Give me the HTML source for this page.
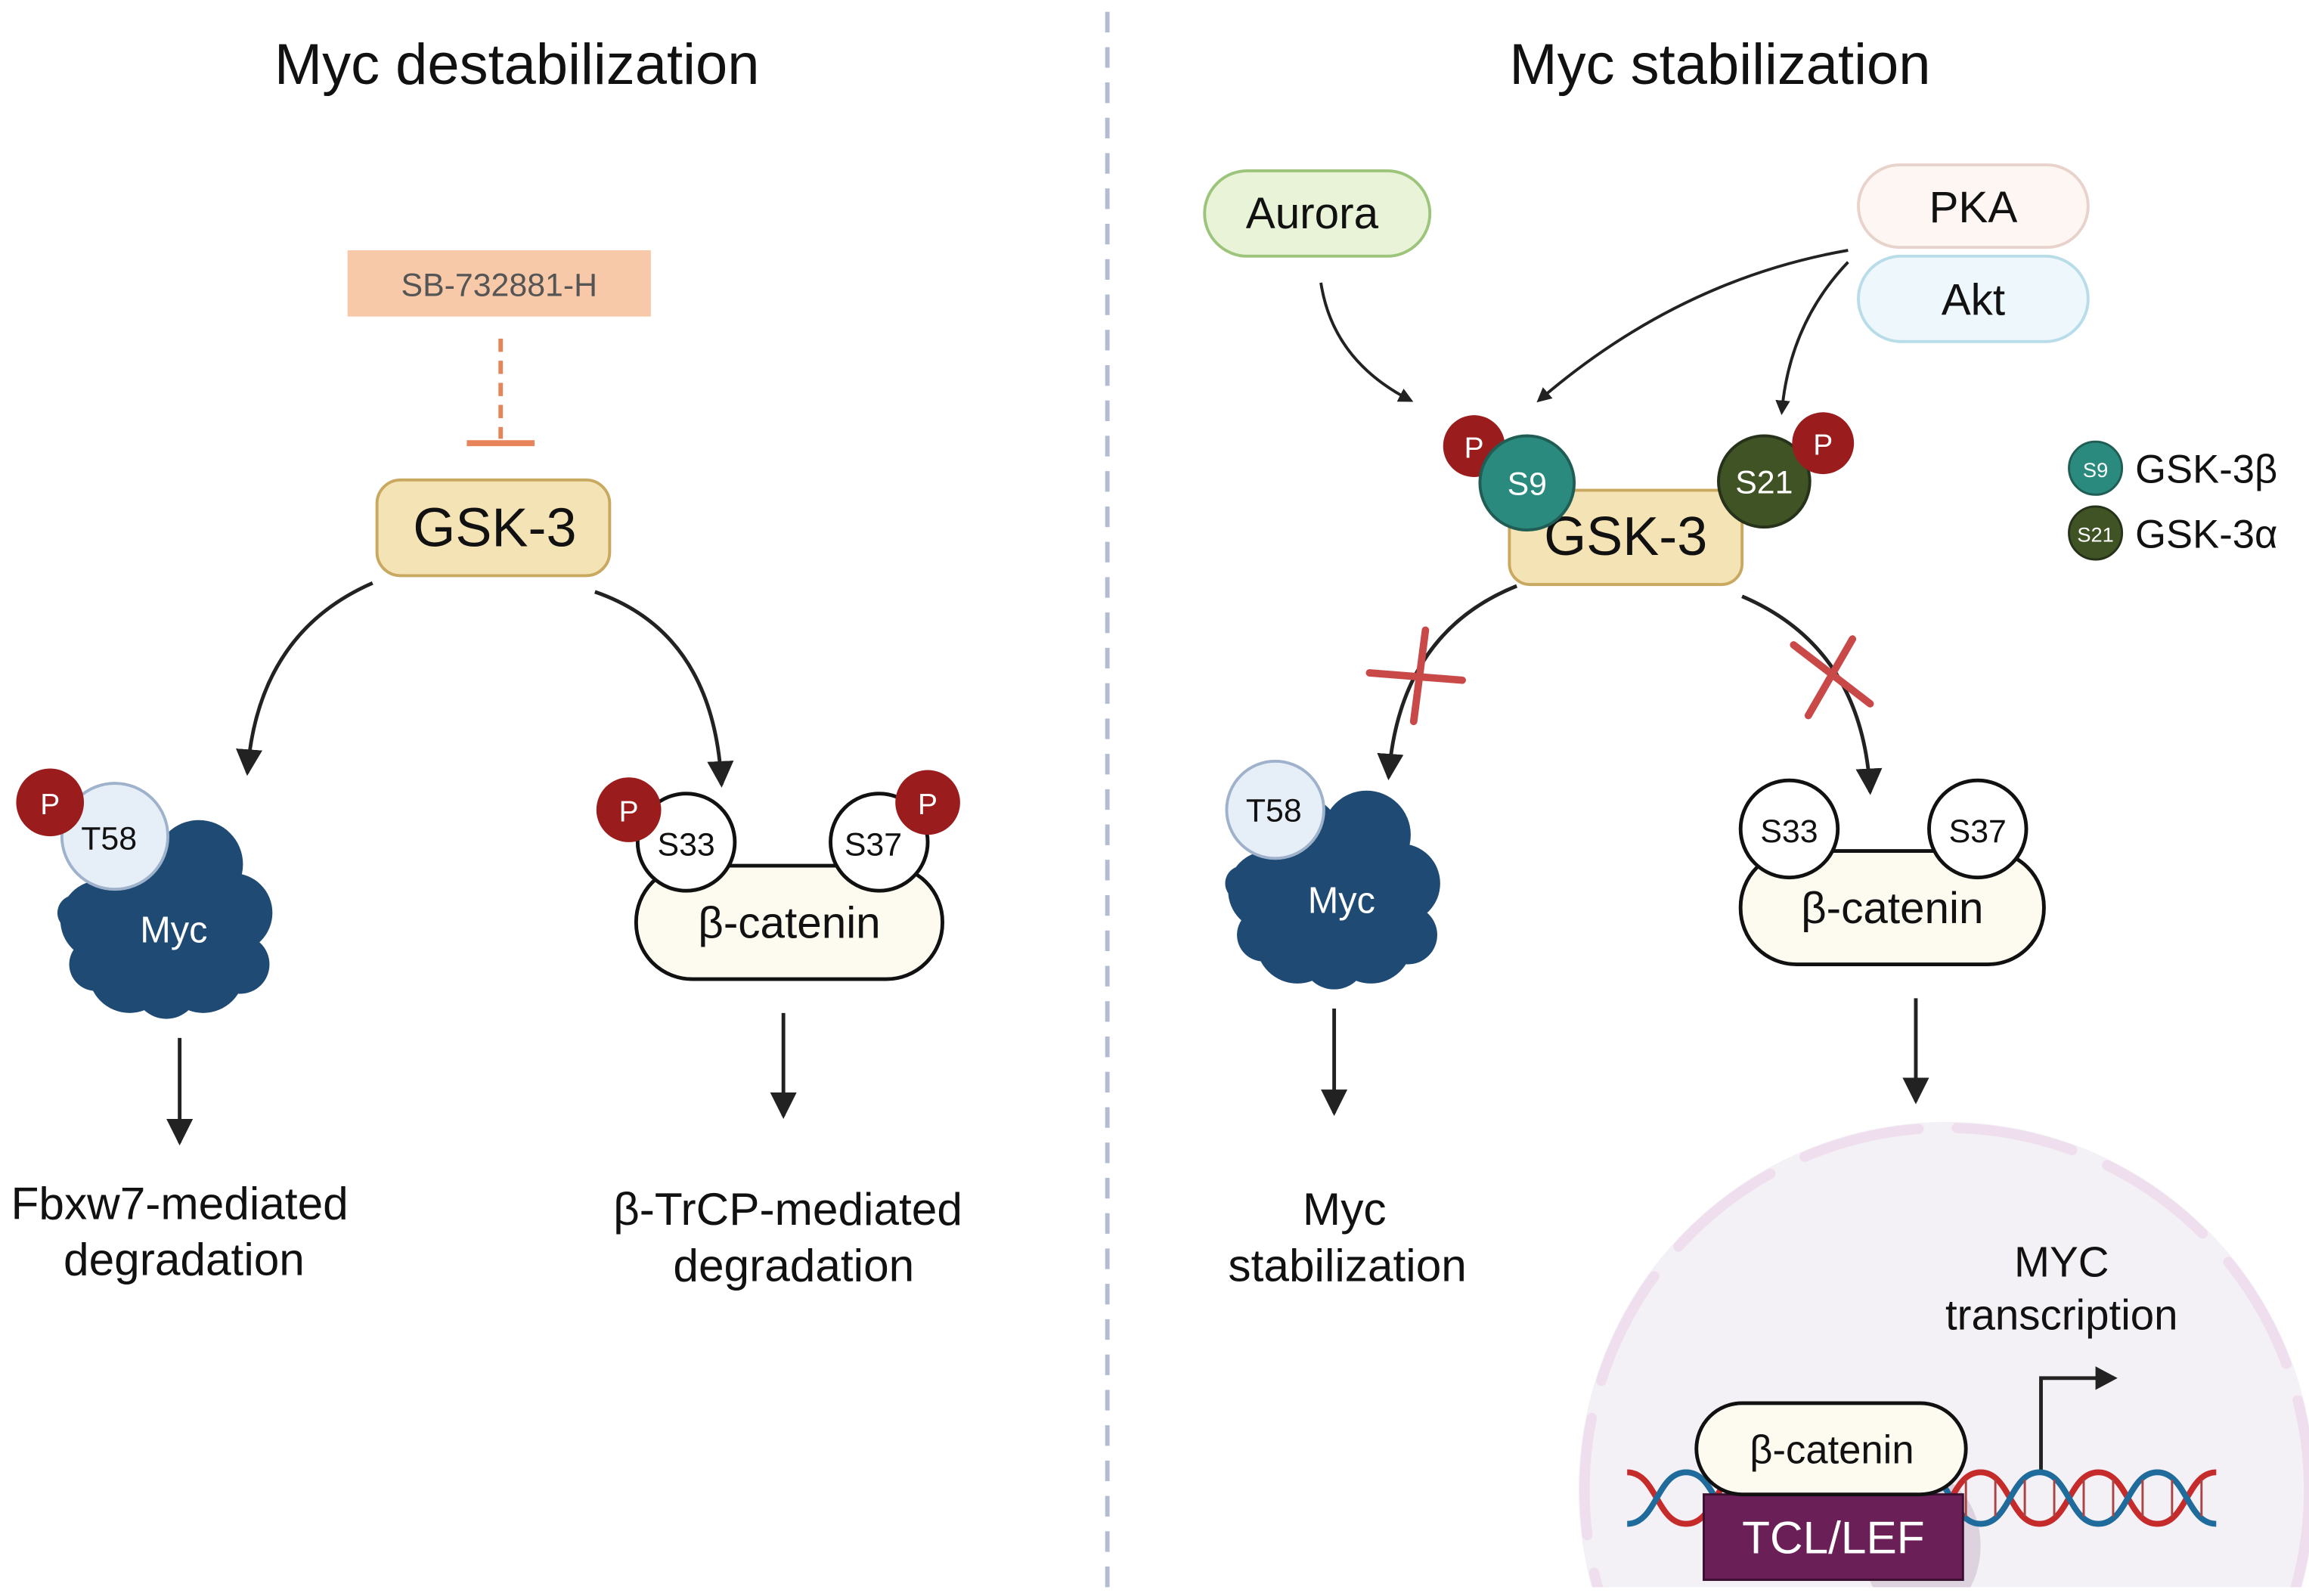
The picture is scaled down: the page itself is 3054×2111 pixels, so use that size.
<!DOCTYPE html>
<html><head><meta charset="utf-8"><style>
html,body{margin:0;padding:0;background:#fff;width:3054px;height:2111px;overflow:hidden}
svg{display:block;overflow:hidden}
text{font-family:"Liberation Sans",sans-serif}
</style></head><body>
<svg width="3054" height="2111" viewBox="0 0 1568 1084" preserveAspectRatio="none" xmlns="http://www.w3.org/2000/svg">
<defs>
<marker id="ah" markerWidth="10" markerHeight="10" refX="8" refY="5" orient="auto" markerUnits="userSpaceOnUse" viewBox="0 0 10 10">
<path d="M0,0 L10,5 L0,10 z" fill="#222"/></marker>
<marker id="ahb" markerWidth="18" markerHeight="18" refX="16" refY="9" orient="auto" markerUnits="userSpaceOnUse" viewBox="0 0 18 18">
<path d="M0,0 L18,9 L0,18 z" fill="#222"/></marker>
<g id="blob">
<circle cx="-25" cy="-35" r="30"/><circle cx="22" cy="-38" r="30"/><circle cx="45" cy="-5" r="27"/>
<circle cx="-45" cy="0" r="27"/><circle cx="0" cy="0" r="45"/><circle cx="-25" cy="35" r="28"/>
<circle cx="25" cy="35" r="28"/><circle cx="0" cy="45" r="22"/><circle cx="-62" cy="-5" r="12"/>
<circle cx="50" cy="30" r="20"/><circle cx="-48" cy="30" r="18"/>
</g>
<clipPath id="pg"><rect x="0" y="0" width="1568" height="1078"/></clipPath>
</defs>

<line x1="752" y1="8" x2="752" y2="1084" stroke="#b3bcd2" stroke-width="3" stroke-dasharray="14,10"/>

<!-- LEFT -->
<text x="351" y="57" font-size="39" text-anchor="middle" fill="#111">Myc destabilization</text>
<rect x="236" y="170" width="206" height="45" fill="#f7c9a8"/>
<text x="339" y="201" font-size="22" text-anchor="middle" fill="#555">SB-732881-H</text>
<line x1="340" y1="230" x2="340" y2="298" stroke="#e8845a" stroke-width="3" stroke-dasharray="9,6"/>
<line x1="317" y1="301" x2="363" y2="301" stroke="#e8845a" stroke-width="4"/>
<rect x="256" y="326" width="158" height="65" rx="16" fill="#f4e3b4" stroke="#c9a860" stroke-width="2"/>
<text x="336" y="371" font-size="37" text-anchor="middle" fill="#111">GSK-3</text>
<path d="M253,396 Q175,430 168,525" fill="none" stroke="#222" stroke-width="2.5" marker-end="url(#ahb)"/>
<path d="M404,402 Q485,430 490,533" fill="none" stroke="#222" stroke-width="2.5" marker-end="url(#ahb)"/>

<use href="#blob" x="113" y="625" fill="#1e4a74"/>
<circle cx="78" cy="568" r="36" fill="#e6eef8" stroke="#9fb2cc" stroke-width="2"/>
<text x="74" y="577" font-size="22" text-anchor="middle" fill="#111">T58</text>
<circle cx="34" cy="545" r="23" fill="#9b1c1c"/>
<text x="34" y="553" font-size="20" text-anchor="middle" fill="#fff">P</text>
<text x="118" y="640" font-size="25" text-anchor="middle" fill="#fff">Myc</text>
<line x1="122" y1="705" x2="122" y2="776" stroke="#222" stroke-width="2.5" marker-end="url(#ahb)"/>
<text x="122" y="828" font-size="31" text-anchor="middle" fill="#111">Fbxw7-mediated</text>
<text x="125" y="866" font-size="31" text-anchor="middle" fill="#111">degradation</text>

<rect x="432" y="588" width="208" height="77" rx="38" fill="#fdfaf0" stroke="#111" stroke-width="2.5"/>
<circle cx="466" cy="572" r="33" fill="#fff" stroke="#111" stroke-width="2.5"/>
<circle cx="597" cy="572" r="33" fill="#fff" stroke="#111" stroke-width="2.5"/>
<text x="466" y="581" font-size="22" text-anchor="middle" fill="#111">S33</text>
<text x="593" y="581" font-size="22" text-anchor="middle" fill="#111">S37</text>
<circle cx="427" cy="550" r="22" fill="#9b1c1c"/><text x="427" y="558" font-size="20" text-anchor="middle" fill="#fff">P</text>
<circle cx="630" cy="545" r="22" fill="#9b1c1c"/><text x="630" y="553" font-size="20" text-anchor="middle" fill="#fff">P</text>
<text x="536" y="637" font-size="30" text-anchor="middle" fill="#111">β-catenin</text>
<line x1="532" y1="688" x2="532" y2="758" stroke="#222" stroke-width="2.5" marker-end="url(#ahb)"/>
<text x="535" y="832" font-size="31" text-anchor="middle" fill="#111">β-TrCP-mediated</text>
<text x="539" y="870" font-size="31" text-anchor="middle" fill="#111">degradation</text>

<!-- RIGHT -->
<text x="1168" y="57" font-size="39" text-anchor="middle" fill="#111">Myc stabilization</text>
<rect x="818" y="116" width="153" height="58" rx="29" fill="#e8f3d8" stroke="#9cc47a" stroke-width="2"/>
<text x="891" y="155" font-size="30" text-anchor="middle" fill="#111">Aurora</text>
<rect x="1262" y="112" width="156" height="56" rx="28" fill="#fdf6f2" stroke="#e8d3cc" stroke-width="2"/>
<text x="1340" y="151" font-size="30" text-anchor="middle" fill="#111">PKA</text>
<rect x="1262" y="174" width="156" height="58" rx="29" fill="#eef7fb" stroke="#b8dde9" stroke-width="2"/>
<text x="1340" y="214" font-size="30" text-anchor="middle" fill="#111">Akt</text>
<path d="M897,192 Q905,245 958,272" fill="none" stroke="#222" stroke-width="2" marker-end="url(#ah)"/>
<path d="M1255,170 Q1140,190 1045,272" fill="none" stroke="#222" stroke-width="2" marker-end="url(#ah)"/>
<path d="M1255,178 Q1215,220 1210,280" fill="none" stroke="#222" stroke-width="2" marker-end="url(#ah)"/>

<rect x="1025" y="333" width="158" height="64" rx="14" fill="#f4e3b4" stroke="#c9a860" stroke-width="2"/>
<text x="1104" y="377" font-size="37" text-anchor="middle" fill="#111">GSK-3</text>
<circle cx="1001" cy="303" r="21" fill="#9b1c1c"/><text x="1001" y="311" font-size="20" text-anchor="middle" fill="#fff">P</text>
<circle cx="1037" cy="328" r="32" fill="#2a8a7d" stroke="#1f5d55" stroke-width="2"/>
<text x="1037" y="336" font-size="22" text-anchor="middle" fill="#fff">S9</text>
<circle cx="1198" cy="327" r="31" fill="#3f5325" stroke="#26321a" stroke-width="2"/>
<text x="1198" y="335" font-size="22" text-anchor="middle" fill="#fff">S21</text>
<circle cx="1238" cy="301" r="21" fill="#9b1c1c"/><text x="1238" y="309" font-size="20" text-anchor="middle" fill="#fff">P</text>

<circle cx="1423" cy="318" r="18" fill="#2a8a7d" stroke="#1f5d55" stroke-width="1.5"/>
<text x="1423" y="324" font-size="14" text-anchor="middle" fill="#fff">S9</text>
<text x="1450" y="328" font-size="27" fill="#111">GSK-3β</text>
<circle cx="1423" cy="362" r="18" fill="#3f5325" stroke="#26321a" stroke-width="1.5"/>
<text x="1423" y="368" font-size="14" text-anchor="middle" fill="#fff">S21</text>
<text x="1450" y="372" font-size="27" fill="#111">GSK-3α</text>

<path d="M1030,398 Q950,430 943,528" fill="none" stroke="#222" stroke-width="2.5" marker-end="url(#ahb)"/>
<path d="M1183,405 Q1265,440 1270,538" fill="none" stroke="#222" stroke-width="2.5" marker-end="url(#ahb)"/>
<g stroke="#c94848" stroke-width="5" stroke-linecap="round">
<line x1="930" y1="457" x2="993" y2="462"/><line x1="968" y1="428" x2="960" y2="490"/>
<line x1="1218" y1="438" x2="1270" y2="478"/><line x1="1258" y1="434" x2="1228" y2="486"/>
</g>

<use href="#blob" x="906" y="605" fill="#1e4a74"/>
<circle cx="866" cy="550" r="33" fill="#e6eef8" stroke="#9fb2cc" stroke-width="2"/>
<text x="865" y="558" font-size="22" text-anchor="middle" fill="#111">T58</text>
<text x="911" y="620" font-size="25" text-anchor="middle" fill="#fff">Myc</text>
<line x1="906" y1="685" x2="906" y2="756" stroke="#222" stroke-width="2.5" marker-end="url(#ahb)"/>
<text x="913" y="832" font-size="31" text-anchor="middle" fill="#111">Myc</text>
<text x="915" y="870" font-size="31" text-anchor="middle" fill="#111">stabilization</text>

<rect x="1182" y="578" width="206" height="77" rx="38" fill="#fdfaf0" stroke="#111" stroke-width="2.5"/>
<circle cx="1215" cy="563" r="33" fill="#fff" stroke="#111" stroke-width="2.5"/>
<circle cx="1343" cy="563" r="33" fill="#fff" stroke="#111" stroke-width="2.5"/>
<text x="1215" y="572" font-size="22" text-anchor="middle" fill="#111">S33</text>
<text x="1343" y="572" font-size="22" text-anchor="middle" fill="#111">S37</text>
<text x="1285" y="627" font-size="30" text-anchor="middle" fill="#111">β-catenin</text>
<line x1="1301" y1="678" x2="1301" y2="748" stroke="#222" stroke-width="2.5" marker-end="url(#ahb)"/>

<g clip-path="url(#pg)">
<circle cx="1322" cy="1012" r="250" fill="#f3f1f5"/>
<circle cx="1322" cy="1012" r="246" fill="none" stroke="#efdfee" stroke-width="7" stroke-linecap="round" stroke-dasharray="80,26"/>
<ellipse cx="1305" cy="1050" rx="40" ry="50" fill="#ddd3df"/>
</g>
<text x="1400" y="867" font-size="29" text-anchor="middle" fill="#111">MYC</text>
<text x="1400" y="903" font-size="29" text-anchor="middle" fill="#111">transcription</text>
<polyline points="1386,1000 1386,936 1425,936" fill="none" stroke="#222" stroke-width="2.5"/>
<path d="M1423,928 L1438,936 L1423,944 z" fill="#222"/>
<g fill="none" stroke-width="4">
<path d="M1105,1000 C1125,1000 1125,1035 1145,1035 C1165,1035 1165,1000 1185,1000 C1205,1000 1205,1035 1225,1035 C1245,1035 1245,1000 1265,1000 C1285,1000 1285,1035 1305,1035 C1325,1035 1325,1000 1345,1000 C1365,1000 1365,1035 1385,1035 C1405,1035 1405,1000 1425,1000 C1445,1000 1445,1035 1465,1035 C1485,1035 1485,1000 1505,1000" stroke="#c62b2b"/>
<path d="M1105,1035 C1125,1035 1125,1000 1145,1000 C1165,1000 1165,1035 1185,1035 C1205,1035 1205,1000 1225,1000 C1245,1000 1245,1035 1265,1035 C1285,1035 1285,1000 1305,1000 C1325,1000 1325,1035 1345,1035 C1365,1035 1365,1000 1385,1000 C1405,1000 1405,1035 1425,1035 C1445,1035 1445,1000 1465,1000 C1485,1000 1485,1035 1505,1035" stroke="#1f6b9b"/>
</g>
<g stroke="#a44" stroke-width="1.5">
<line x1="1335" y1="1005" x2="1335" y2="1030"/><line x1="1355" y1="1005" x2="1355" y2="1030"/><line x1="1375" y1="1005" x2="1375" y2="1030"/><line x1="1395" y1="1005" x2="1395" y2="1030"/><line x1="1415" y1="1005" x2="1415" y2="1030"/><line x1="1435" y1="1005" x2="1435" y2="1030"/><line x1="1455" y1="1005" x2="1455" y2="1030"/><line x1="1475" y1="1005" x2="1475" y2="1030"/><line x1="1495" y1="1005" x2="1495" y2="1030"/>
</g>
<rect x="1157" y="1015" width="176" height="58" fill="#6a1f57" stroke="#3a0f30" stroke-width="1.5"/>
<text x="1245" y="1055" font-size="31" text-anchor="middle" fill="#fff">TCL/LEF</text>
<rect x="1152" y="953" width="183" height="62" rx="31" fill="#fdfaf0" stroke="#111" stroke-width="2.5"/>
<text x="1244" y="994" font-size="27" text-anchor="middle" fill="#111">β-catenin</text>
</svg>
</body></html>
